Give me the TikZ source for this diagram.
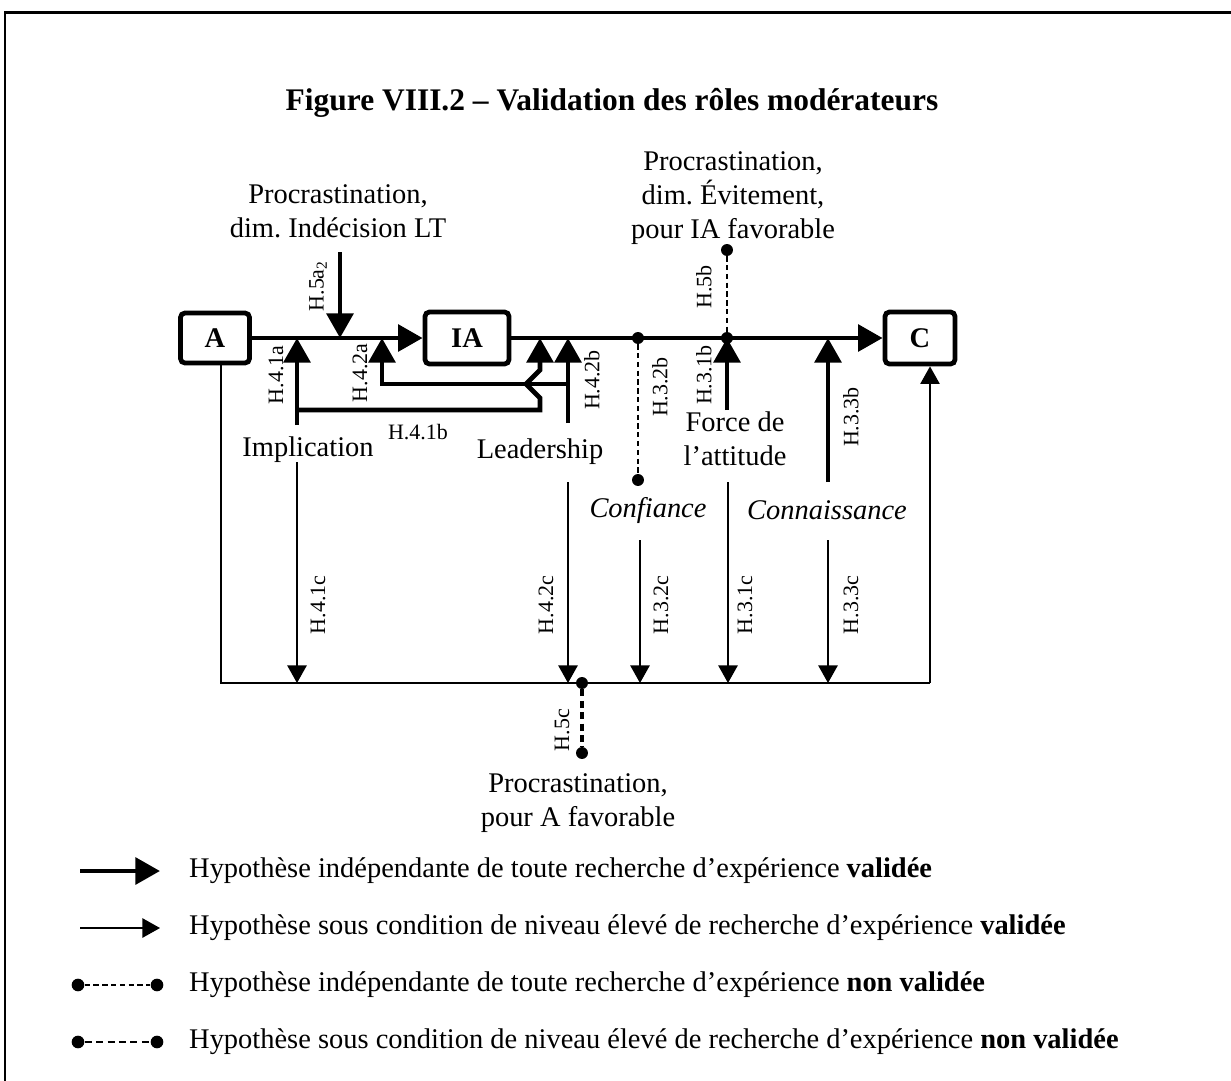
\documentclass[tikz,border=0pt]{standalone}
\usepackage{fontspec}
\setmainfont{Liberation Serif}
\usetikzlibrary{arrows.meta,calc,positioning}
\frenchspacing

\begin{document}
\begin{tikzpicture}[
  x=0.02cm, y=-0.02cm,
  font=\fontsize{16.2}{19.3}\selectfont,
  >={Triangle[length=14pt,width=15pt]},
  box/.style={draw, line width=2.7pt, rounded corners=2.5pt, inner sep=0pt,
    font=\fontsize{16.2}{19.3}\selectfont\bfseries},
  texte/.style={align=center, inner sep=1pt},
  hyp/.style={rotate=90, inner sep=1pt, font=\fontsize{12.5}{14}\selectfont},
  hyph/.style={inner sep=1pt, font=\fontsize{12.5}{14}\selectfont},
  fort/.style={->, line width=2.8pt},
  faible/.style={-{Triangle[length=10pt,width=11pt]}, line width=0.8pt},
  trait/.style={line width=0.8pt},
  nonval/.style={line width=0.6pt, dash pattern=on 3pt off 2pt},
  nonvalcond/.style={line width=2.1pt, dash pattern=on 4pt off 2.5pt},
  pastille/.style={circle, fill, inner sep=0pt, minimum size=6.8pt}
]
  \useasboundingbox (0,0) rectangle (1231,1080);
  \draw[line width=1.7pt] (5,1120) |- (1260,12);

  \node[font=\fontsize{17.9}{20}\selectfont\bfseries] (titre) at (612,103)
    {Figure VIII.2 – Validation des rôles modérateurs};

  % variables principales
  \node[box, minimum width=1.38cm, minimum height=1cm] (A) at (215,338) {A};
  \node[box, minimum width=1.68cm, minimum height=1.04cm] (IA) at (467,338) {IA};
  \node[box, minimum width=1.4cm, minimum height=1.04cm] (C) at (920,338) {C};
  \draw[fort] (A) -- (IA);
  \draw[fort] (IA) -- (C);

  % H.5a2
  \node[texte] (indecision) at (338,211) {Procrastination,\\dim. Indécision LT};
  \coordinate (h5a) at (340,252);
  \draw[fort] (h5a) -- (h5a |- A);
  \node[hyp] (l5a) at (318,286) {H.5a\textsubscript{2}};

  % implication et leadership
  \node (implication) at (308,450) {Implication};
  \node (leadership) at (540,452) {Leadership};
  \coordinate (i41) at (297,425);
  \coordinate (b41) at (297,410);
  \coordinate (j41) at (540,338);
  \coordinate (l42) at (568,423);
  \coordinate (b42) at (568,384);
  \coordinate (j42) at (382,338);
  \draw[fort] (i41) -- (i41 |- A);
  \draw[fort] (b42) -| (j42);
  \draw[fort] (b41) -- (b41 -| j41) -- ++(0,-12) -- ++(-14,-14) -- ++(14,-14) -- (j41);
  \draw[fort] (l42) -- (l42 |- A);
  \node[hyp] (l41a) at (276,375) {H.4.1a};
  \node[hyp] (l42a) at (360,373) {H.4.2a};
  \node[hyph] (l41b) at (418,432) {H.4.1b};
  \node[hyp] (l42b) at (592,380) {H.4.2b};

  % confiance
  \node[pastille] (p32) at (638,338) {};
  \node[pastille] (q32) at (638,480) {};
  \draw[nonval] (p32) -- (q32);
  \node[hyp] (l32b) at (660,387) {H.3.2b};
  \node (confiance) at (648,510) {\textit{Confiance}};

  % H.5b et force de l'attitude
  \node[texte] (evitement) at (733,198) {Procrastination,\\dim. Évitement,\\pour IA favorable};
  \node[pastille] (p5b) at (727,250) {};
  \node[pastille] (q5b) at (727,338) {};
  \draw[nonval] (p5b) -- (q5b);
  \node[hyp] (l5b) at (704,287) {H.5b};
  \node[texte] (force) at (735,439) {Force de\\l’attitude};
  \coordinate (f31) at (727,410);
  \draw[fort] (f31) -- (f31 |- A);
  \node[hyp] (l31b) at (704,375) {H.3.1b};

  % connaissance
  \node (connaissance) at (827,510) {\textit{Connaissance}};
  \coordinate (c33) at (828,482);
  \draw[fort] (c33) -- (c33 |- A);
  \node[hyp] (l33b) at (851,417) {H.3.3b};

  % effets directs A -> C
  \coordinate (bg) at (221,683);
  \coordinate (bd) at (930,683);
  \draw[trait] (A.south -| bg) -- (bg) -- (bd);
  \draw[faible] (bd) -- (C.south -| bd);
  \coordinate (d41) at (297,462);
  \coordinate (d42) at (568,482);
  \coordinate (d32) at (640,540);
  \coordinate (d31) at (728,482);
  \coordinate (d33) at (828,540);
  \draw[faible] (d41) -- (d41 |- bg);
  \draw[faible] (d42) -- (d42 |- bg);
  \draw[faible] (d32) -- (d32 |- bg);
  \draw[faible] (d31) -- (d31 |- bg);
  \draw[faible] (d33) -- (d33 |- bg);
  \node[hyp] (l41c) at (318,605) {H.4.1c};
  \node[hyp] (l42c) at (546,605) {H.4.2c};
  \node[hyp] (l32c) at (661,605) {H.3.2c};
  \node[hyp] (l31c) at (745,605) {H.3.1c};
  \node[hyp] (l33c) at (851,605) {H.3.3c};

  % H.5c
  \node[pastille] (p5c) at (582,683) {};
  \node[pastille] (q5c) at (582,753) {};
  \draw[nonvalcond] (p5c) -- (q5c);
  \node[hyp] (l5c) at (562,730) {H.5c};
  \node[texte] (favorable) at (578,803) {Procrastination,\\pour A favorable};

  % legende
  \coordinate (g1a) at (80,871);
  \coordinate (g1b) at (160,871);
  \draw[fort] (g1a) -- (g1b);
  \node[anchor=west] (t1) at (183,871)
    {Hypothèse indépendante de toute recherche d’expérience \textbf{validée}};
  \coordinate (g2a) at (80,928);
  \coordinate (g2b) at (160,928);
  \draw[faible] (g2a) -- (g2b);
  \node[anchor=west] (t2) at (183,928)
    {Hypothèse sous condition de niveau élevé de recherche d’expérience \textbf{validée}};
  \node[pastille, minimum size=7.2pt] (g3a) at (78,985) {};
  \node[pastille, minimum size=7.2pt] (g3b) at (157,985) {};
  \draw[nonval, line width=1.4pt] (g3a) -- (g3b);
  \node[anchor=west] (t3) at (183,985)
    {Hypothèse indépendante de toute recherche d’expérience \textbf{non validée}};
  \node[pastille, minimum size=7.2pt] (g4a) at (78,1042) {};
  \node[pastille, minimum size=7.2pt] (g4b) at (157,1042) {};
  \draw[nonvalcond, line width=1.6pt] (g4a) -- (g4b);
  \node[anchor=west] (t4) at (183,1042)
    {Hypothèse sous condition de niveau élevé de recherche d’expérience \textbf{non validée}};
\end{tikzpicture}
\end{document}
